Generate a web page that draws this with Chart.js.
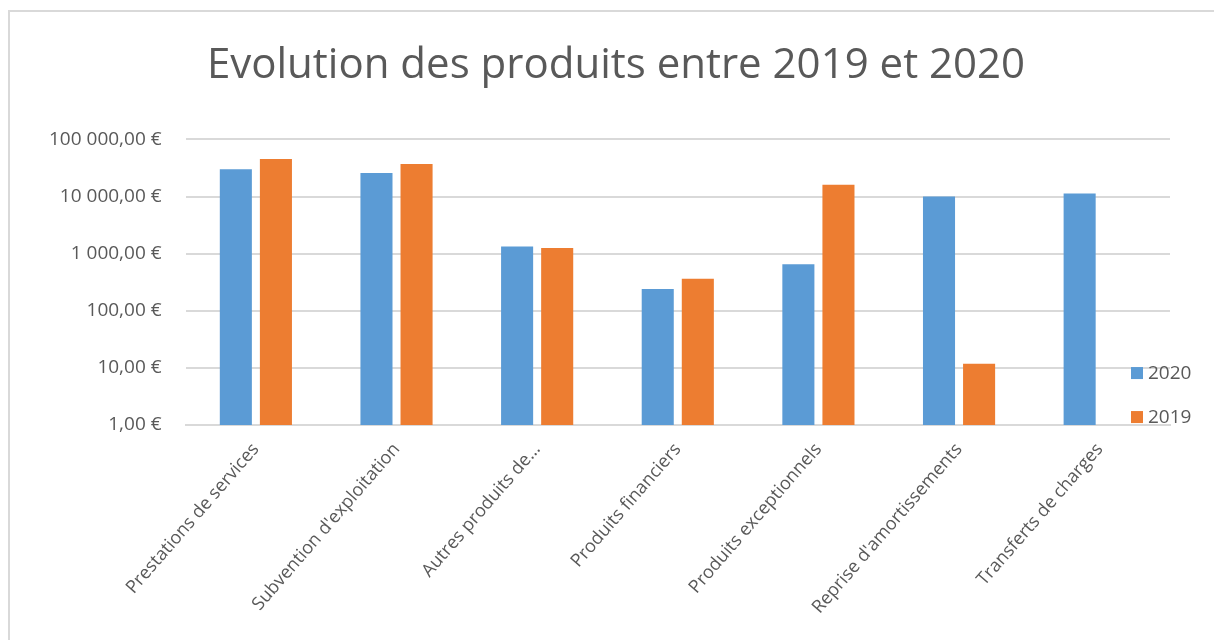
<!DOCTYPE html>
<html>
<head>
<meta charset="utf-8">
<script src="https://cdn.jsdelivr.net/npm/chart.js@4/dist/chart.umd.min.js"></script>
<style>
  html, body { margin: 0; padding: 0; background: #fff; }
  #wrap { position: absolute; left: 0; top: 0; width: 1214px; height: 640px; }
</style>
</head>
<body>
<div id="wrap"><canvas id="myChart" width="1214" height="640"></canvas></div>
<script>
  // chart data
  const categories = [
    'Prestations de services',
    "Subvention d'exploitation",
    'Autres produits de…',
    'Produits financiers',
    'Produits exceptionnels',
    "Reprise d'amortissements",
    'Transferts de charges'
  ];
  const values2020 = [29900, 25800, 1330, 240, 650, 10000, 11300];
  const values2019 = [45400, 37100, 1260, 363, 16100, 11.8, null];
  const yTicks = [1, 10, 100, 1000, 10000, 100000];

  const grey = '#595959';
  const font = 'Open Sans';

  function euro(v) {
    const s = Math.round(v).toString().replace(/\B(?=(\d{3})+(?!\d))/g, ' ');
    return s + ',00 €';
  }

  // frame around the chart + legend drawn like excel (overlapping the plot)
  const excelBits = {
    id: 'excelBits',
    beforeDraw(chart) {
      const c = chart.ctx;
      c.save();
      c.strokeStyle = '#d9d9d9';
      c.lineWidth = 2;
      c.beginPath();
      c.moveTo(9, 640);
      c.lineTo(9, 11);
      c.lineTo(1214, 11);
      c.stroke();
      c.restore();
    },
    afterDraw(chart) {
      const c = chart.ctx;
      const a = chart.chartArea;
      c.save();
      c.font = '19px "' + font + '"';
      c.textBaseline = 'middle';
      chart.data.datasets.forEach((ds, i) => {
        const y = a.bottom - 52 + i * 44;
        const x = a.right - 39;
        c.fillStyle = ds.backgroundColor;
        c.fillRect(x, y - 6, 12, 12);
        c.fillStyle = grey;
        c.fillText(ds.label, x + 17, y + 1);
      });
      c.restore();
    }
  };

  const ctx = document.getElementById('myChart').getContext('2d');
  const myChart = new Chart(ctx, {
    type: 'bar',
    data: {
      labels: categories,
      datasets: [
        { label: '2020', data: values2020, backgroundColor: '#5B9BD5' },
        { label: '2019', data: values2019, backgroundColor: '#ED7D31' }
      ]
    },
    options: {
      responsive: false,
      animation: false,
      layout: { padding: { top: 41, left: 25, right: 7, bottom: 16 } },
      datasets: {
        bar: { categoryPercentage: 0.57, barPercentage: 0.8 }
      },
      plugins: {
        legend: { display: false },
        tooltip: { enabled: false },
        title: {
          display: true,
          text: 'Evolution des produits entre 2019 et 2020',
          color: grey,
          font: { family: font, size: 42, weight: 'normal' },
          padding: { top: 0, bottom: 48 }
        }
      },
      scales: {
        x: {
          grid: { display: false },
          border: { color: '#d9d9d9', width: 2 },
          ticks: {
            color: grey,
            font: { family: font, size: 18 },
            minRotation: 49,
            maxRotation: 49,
            padding: 6
          }
        },
        y: {
          type: 'logarithmic',
          min: 1,
          max: 100000,
          afterBuildTicks(scale) {
            scale.ticks = yTicks.map(v => ({ value: v, major: true }));
          },
          grid: { color: '#d9d9d9', lineWidth: 2, drawTicks: false },
          border: { display: false },
          ticks: {
            color: grey,
            font: { family: font, size: 19 },
            padding: 24,
            autoSkip: false,
            callback: v => euro(v)
          }
        },
        // empty right-hand strip where the excel legend sits
        yRight: {
          position: 'right',
          grid: { display: false, drawTicks: false },
          border: { display: false },
          ticks: { display: false },
          afterFit(scale) { scale.width = 37; }
        }
      }
    },
    plugins: [excelBits]
  });
</script>
</body>
</html>
